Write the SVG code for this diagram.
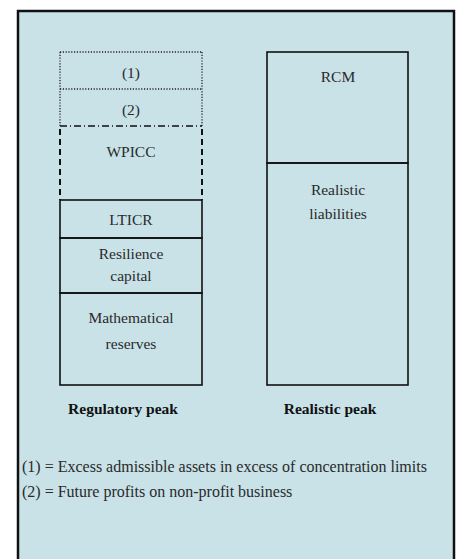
<svg xmlns="http://www.w3.org/2000/svg" width="456" height="559" viewBox="0 0 456 559">
<style>
.t{font-family:"Liberation Serif","Times New Roman",serif;font-size:15.5px;fill:#2a2a2a;text-anchor:middle}
.b{font-weight:bold;fill:#111}
.f{text-anchor:start;font-size:16px}
.s{fill:none;stroke:#111;stroke-width:1.6}
.dot{fill:none;stroke:#222;stroke-width:1.3;stroke-dasharray:1.2,1.6}
.dash{fill:none;stroke:#111;stroke-width:2;stroke-dasharray:6,4}
.dd{fill:none;stroke:#111;stroke-width:1.6;stroke-dasharray:7,3,1,3}
</style>
<rect x="0" y="0" width="456" height="559" fill="#ffffff"/>
<rect id="frame" x="18" y="11" width="436" height="560" fill="#c8e2e8" stroke="#111" stroke-width="2.5"/>
<g id="n1">
<line class="dot" x1="60" y1="52" x2="202" y2="52"/>
<line class="dot" x1="60" y1="52" x2="60" y2="126"/>
<line class="dot" x1="202" y1="52" x2="202" y2="126"/>
<line class="dot" x1="60" y1="89" x2="202" y2="89"/>
<text class="t" x="131" y="78">(1)</text>
</g>
<g id="n2">
<text class="t" x="131" y="115">(2)</text>
</g>
<g id="wpicc">
<line class="dd" x1="60" y1="126" x2="202" y2="126"/>
<line class="dash" x1="60" y1="129" x2="60" y2="200"/>
<line class="dash" x1="202" y1="129" x2="202" y2="200"/>
<text class="t" x="131" y="157">WPICC</text>
</g>
<g id="lticr">
<rect class="s" x="60" y="200" width="142" height="38"/>
<text class="t" x="131" y="225">LTICR</text>
</g>
<g id="resilience">
<rect class="s" x="60" y="238" width="142" height="55"/>
<text class="t" x="131" y="259">Resilience</text>
<text class="t" x="131" y="281">capital</text>
</g>
<g id="math">
<rect class="s" x="60" y="293" width="142" height="92"/>
<text class="t" x="131" y="323">Mathematical</text>
<text class="t" x="131" y="349">reserves</text>
</g>
<g id="rcm">
<rect class="s" x="267" y="52" width="141" height="111"/>
<text class="t" x="338" y="82">RCM</text>
</g>
<g id="realistic">
<rect class="s" x="267" y="163" width="141" height="222"/>
<text class="t" x="338" y="195">Realistic</text>
<text class="t" x="338" y="219">liabilities</text>
</g>
<g id="labels">
<text class="t b" x="123" y="414">Regulatory peak</text>
<text class="t b" x="330" y="414">Realistic peak</text>
<text class="t f" x="22" y="472">(1) = Excess admissible assets in excess of concentration limits</text>
<text class="t f" x="22" y="497">(2) = Future profits on non-profit business</text>
</g>
<g id="connectors"/>
</svg>
